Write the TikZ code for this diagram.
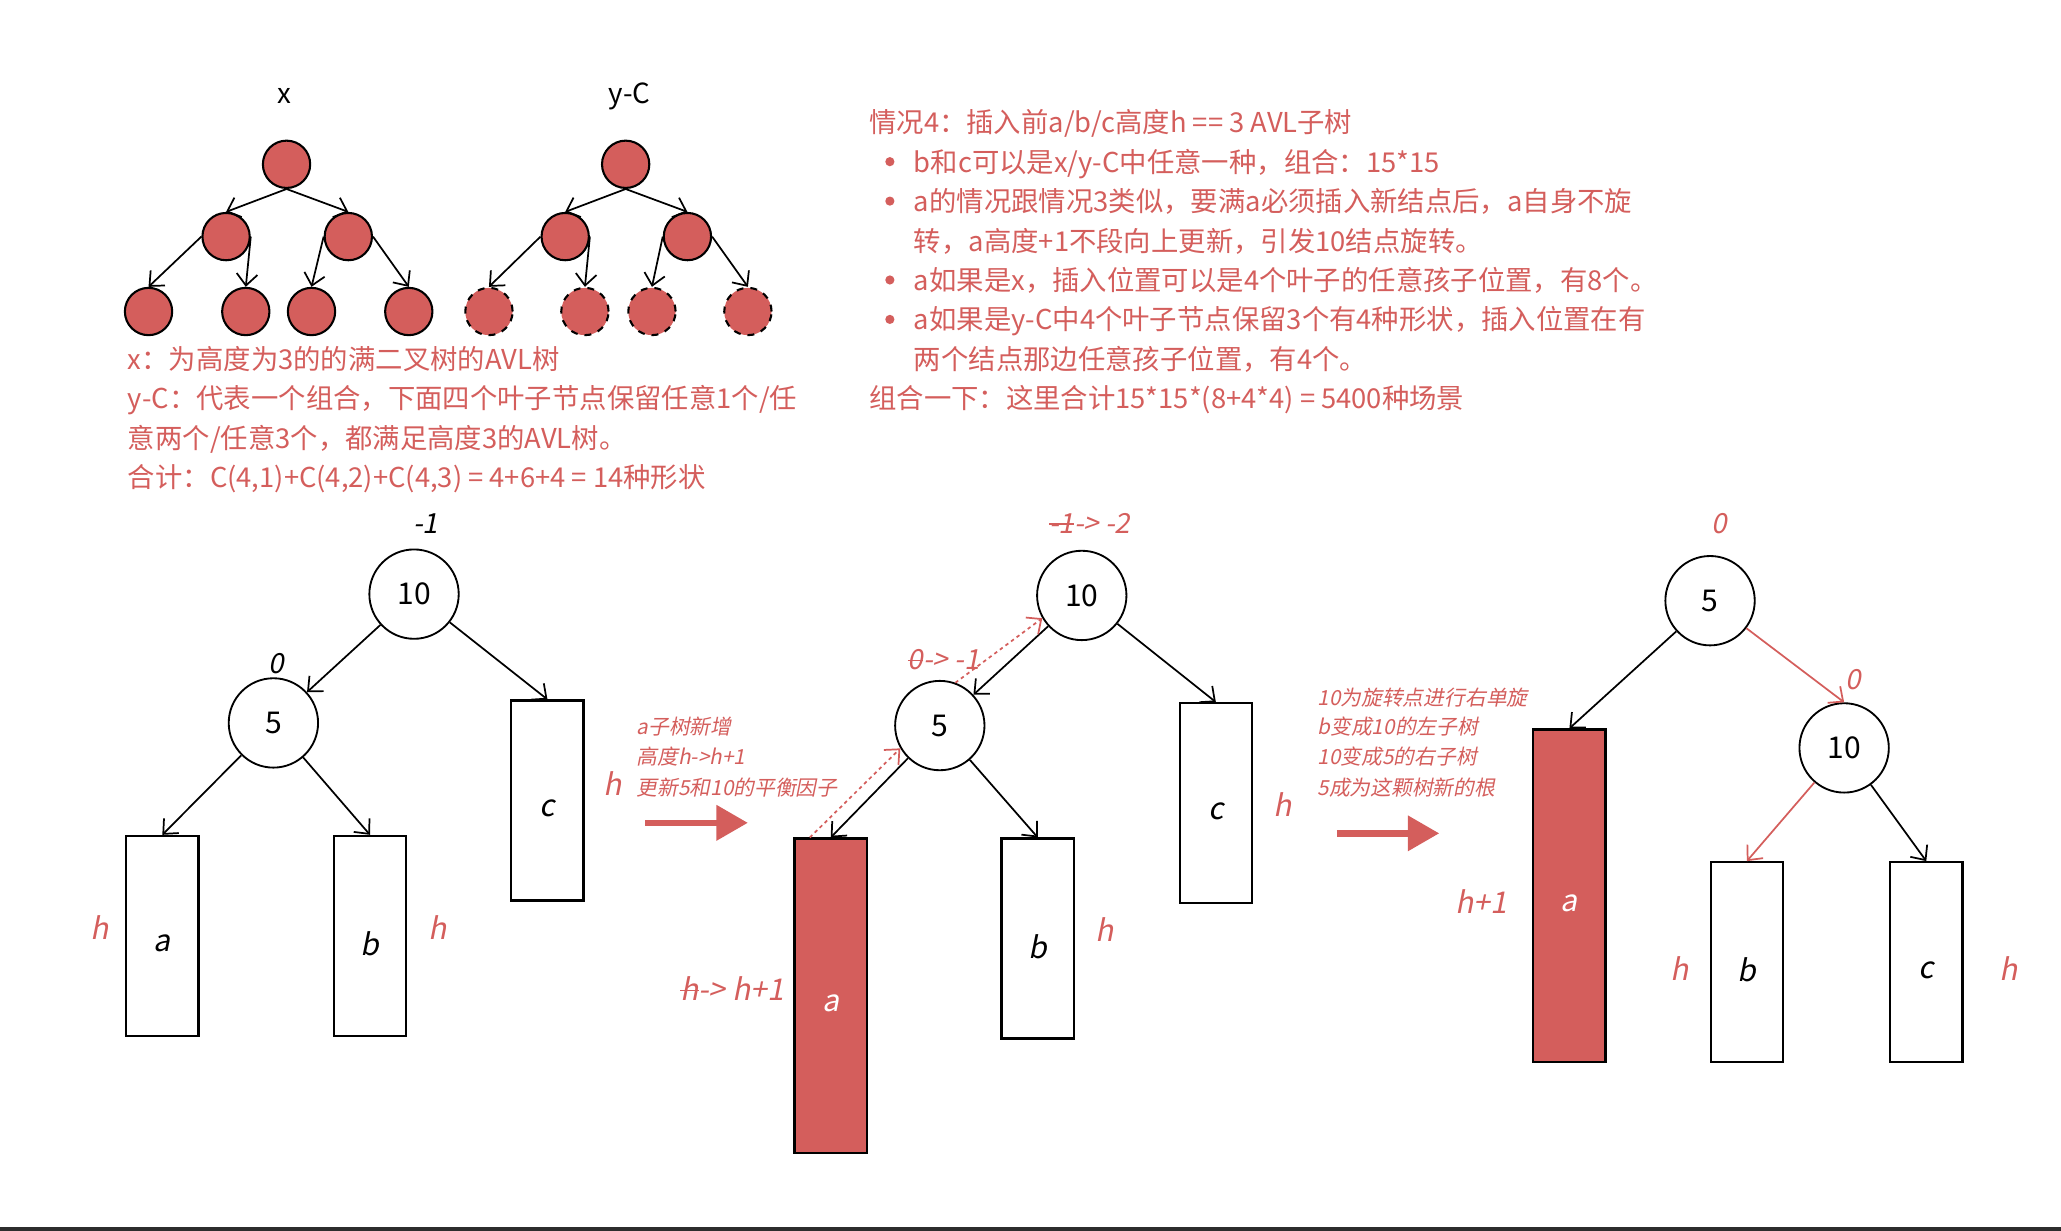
\documentclass[tikz,border=0pt]{standalone}
\usepackage{fontspec}
\setmainfont{Noto Sans CJK SC}
\newfontfamily\slfont{Noto Sans CJK SC}[FakeSlant=0.2]
\usetikzlibrary{arrows.meta,calc}
\definecolor{avlred}{RGB}{212,94,92}
\definecolor{bline}{RGB}{45,45,45}
\newcommand{\strk}[1]{\setbox0\hbox{#1}\rlap{\rule[0.3em]{\wd0}{0.7pt}}\box0}
\newcommand{\sublbl}[1]{\raisebox{-0.12cm}[\height][\depth]{#1}}

\tikzset{
  leaf/.style={circle,draw,line width=0.9pt,fill=avlred,minimum size=0.72cm,inner sep=0pt},
  leafdash/.style={leaf,dashed},
  knode/.style={circle,draw,line width=0.8pt,minimum size=1.36cm,inner sep=0pt,font=\fontsize{13}{15}\selectfont},
  sub/.style={rectangle,draw,line width=1pt,minimum width=1.1cm,minimum height=3.04cm,inner sep=0pt,font=\slfont\fontsize{13}{15}\selectfont},
  subred/.style={sub,fill=avlred,text=white},
  bf/.style={font=\slfont\fontsize{12}{14}\selectfont},
  hgt/.style={font=\slfont\fontsize{13}{15}\selectfont,text=avlred},
  note/.style={font=\slfont\fontsize{9}{11}\selectfont,text=avlred,anchor=base west,inner sep=0pt},
  txt/.style={font=\fontsize{11.85}{17}\selectfont,text=avlred,anchor=base west,inner sep=0pt},
  link/.style={-{Straight Barb[length=5pt,width=9pt]},line width=0.75pt},
  bigarrow/.style={-{Triangle[length=0.48cm,width=0.52cm]},line width=0.1cm,avlred},
}

\begin{document}
\begin{tikzpicture}[x=0.02cm,y=-0.02cm]
\useasboundingbox (0,0) rectangle (1568,936);

% --- alberi x e y-C ---
\node[font=\fontsize{12}{14}\selectfont] (xlab) at (216,73) {x};
\node[leaf] (x0) at (218,125) {};
\node[leaf] (x1) at (172,180) {};
\node[leaf] (x2) at (265,180) {};
\node[leaf] (x3) at (113,237) {};
\node[leaf] (x4) at (187,237) {};
\node[leaf] (x5) at (237,237) {};
\node[leaf] (x6) at (311,237) {};
\draw[link] (x0.south) -- (x1.north);
\draw[link] (x0.south) -- (x2.north);
\draw[link] (x1.west) -- (x3.north);
\draw[link] (x1.east) -- (x4.north);
\draw[link] (x2.west) -- (x5.north);
\draw[link] (x2.east) -- (x6.north);

\node[font=\fontsize{12}{14}\selectfont] (ylab) at (479,73) {y-C};
\node[leaf] (y0) at (476,125) {};
\node[leaf] (y1) at (430,180) {};
\node[leaf] (y2) at (523,180) {};
\node[leafdash] (y3) at (372,237) {};
\node[leafdash] (y4) at (445,237) {};
\node[leafdash] (y5) at (496,237) {};
\node[leafdash] (y6) at (569,237) {};
\draw[link] (y0.south) -- (y1.north);
\draw[link] (y0.south) -- (y2.north);
\draw[link] (y1.west) -- (y3.north);
\draw[link] (y1.east) -- (y4.north);
\draw[link] (y2.west) -- (y5.north);
\draw[link] (y2.east) -- (y6.north);

\node[txt] (t1) at (97,281) {x：为高度为3的的满二叉树的AVL树};
\node[txt] (t2) at (97,311) {y-C：代表一个组合，下面四个叶子节点保留任意1个/任};
\node[txt] (t3) at (97,341) {意两个/任意3个，都满足高度3的AVL树。};
\node[txt] (t4) at (97,371) {合计：C(4,1)+C(4,2)+C(4,3) = 4+6+4 = 14种形状};

% --- testo a destra ---
\node[txt] (r1) at (661,101) {情况4：插入前a/b/c高度h == 3 AVL子树};
\node[txt] (r2) at (695,131) {b和c可以是x/y-C中任意一种，组合：15*15};
\node[txt] (r3) at (695,161) {a的情况跟情况3类似，要满a必须插入新结点后，a自身不旋};
\node[txt] (r4) at (695,191) {转，a高度+1不段向上更新，引发10结点旋转。};
\node[txt] (r5) at (695,221) {a如果是x，插入位置可以是4个叶子的任意孩子位置，有8个。};
\node[txt] (r6) at (695,251) {a如果是y-C中4个叶子节点保留3个有4种形状，插入位置在有};
\node[txt] (r7) at (695,281) {两个结点那边任意孩子位置，有4个。};
\node[txt] (r8) at (661,311) {组合一下：这里合计15*15*(8+4*4) = 5400种场景};
\fill[avlred] (677,123) circle[radius=0.07cm];
\fill[avlred] (677,153) circle[radius=0.07cm];
\fill[avlred] (677,213) circle[radius=0.07cm];
\fill[avlred] (677,243) circle[radius=0.07cm];

% --- prima: prima dell'inserimento ---
\node[bf] (bfa1) at (324,398) {-1};
\node[knode] (ta) at (315,452) {10};
\node[bf] (bfa2) at (210,505) {0};
\node[knode] (fa) at (208,550) {5};
\node[sub] (ca) at (416.5,609) {\sublbl{c}};
\node[sub] (aa) at (123.5,712) {\sublbl{a}};
\node[sub] (ba) at (281.5,712) {\sublbl{b}};
\node[hgt] (ha1) at (466,596) {h};
\node[hgt] (ha2) at (76,706) {h};
\node[hgt] (ha3) at (333,706) {h};
\draw[link] (ta) -- (fa);
\draw[link] (ta) -- (ca.north);
\draw[link] (fa) -- (aa.north);
\draw[link] (fa) -- (ba.north);

\node[note] (n1) at (484,559) {a子树新增};
\node[note] (n2) at (484,582) {高度h->h+1};
\node[note] (n3) at (484,605) {更新5和10的平衡因子};
\coordinate (p1) at (491,626);
\coordinate (p2) at (569,626);
\draw[bigarrow] (p1) -- (p2);

% --- seconda: dopo l'inserimento ---
\node[bf,text=avlred] (bfb1) at (829,398) {\strk{-1} -> -2};
\node[knode] (tb) at (823,453) {10};
\node[bf,text=avlred] (bfb2) at (718,502) {\strk{0} -> -1};
\node[knode] (fb) at (715,552) {5};
\node[sub] (cb) at (925,611) {\sublbl{c}};
\node[subred,minimum height=4.78cm] (ab) at (632,757.5) {\sublbl{a}};
\node[sub] (bb) at (789.5,714) {\sublbl{b}};
\node[hgt] (hb1) at (976,612) {h};
\node[hgt] (hb2) at (840,707) {h};
\node[hgt] (hb3) at (557,752) {\strk{h} -> h+1};
\draw[link] (tb) -- (fb);
\draw[link] (tb) -- (cb.north);
\draw[link] (fb) -- (ab.north);
\draw[link] (fb) -- (bb.north);
\draw[link,avlred,dash pattern=on 1.5pt off 1.5pt] ($(ab.north west)!0.22!(ab.north east)$) -- (fb.210);
\draw[link,avlred,dash pattern=on 1.5pt off 1.5pt] (fb.70) -- (tb.210);

\node[note] (m1) at (1002,537) {10为旋转点进行右单旋};
\node[note] (m2) at (1002,559) {b变成10的左子树};
\node[note] (m3) at (1002,582) {10变成5的右子树};
\node[note] (m4) at (1002,605) {5成为这颗树新的根};
\coordinate (q1) at (1017,634);
\coordinate (q2) at (1095,634);
\draw[bigarrow] (q1) -- (q2);

% --- terza: dopo la rotazione ---
\node[bf,text=avlred] (bfc1) at (1308,398) {0};
\node[knode] (fc) at (1301,457) {5};
\node[bf,text=avlred] (bfc2) at (1410,517) {0};
\node[knode] (tc) at (1403,569) {10};
\node[subred,minimum height=5.06cm] (ac) at (1194,681.5) {\sublbl{a}};
\node[sub] (bc) at (1329,732) {\sublbl{b}};
\node[sub] (cc) at (1465.5,732) {\sublbl{c}};
\node[hgt] (hc1) at (1127,686) {h+1};
\node[hgt] (hc2) at (1278,737) {h};
\node[hgt] (hc3) at (1528,737) {h};
\draw[link] (fc) -- (ac.north);
\draw[link,avlred] (fc) -- (tc.north);
\draw[link,avlred] (tc) -- (bc.north);
\draw[link] (tc) -- (cc.north);

\draw[bline,line width=0.05cm] (0,935) -- (1568,935);
\end{tikzpicture}
\end{document}
